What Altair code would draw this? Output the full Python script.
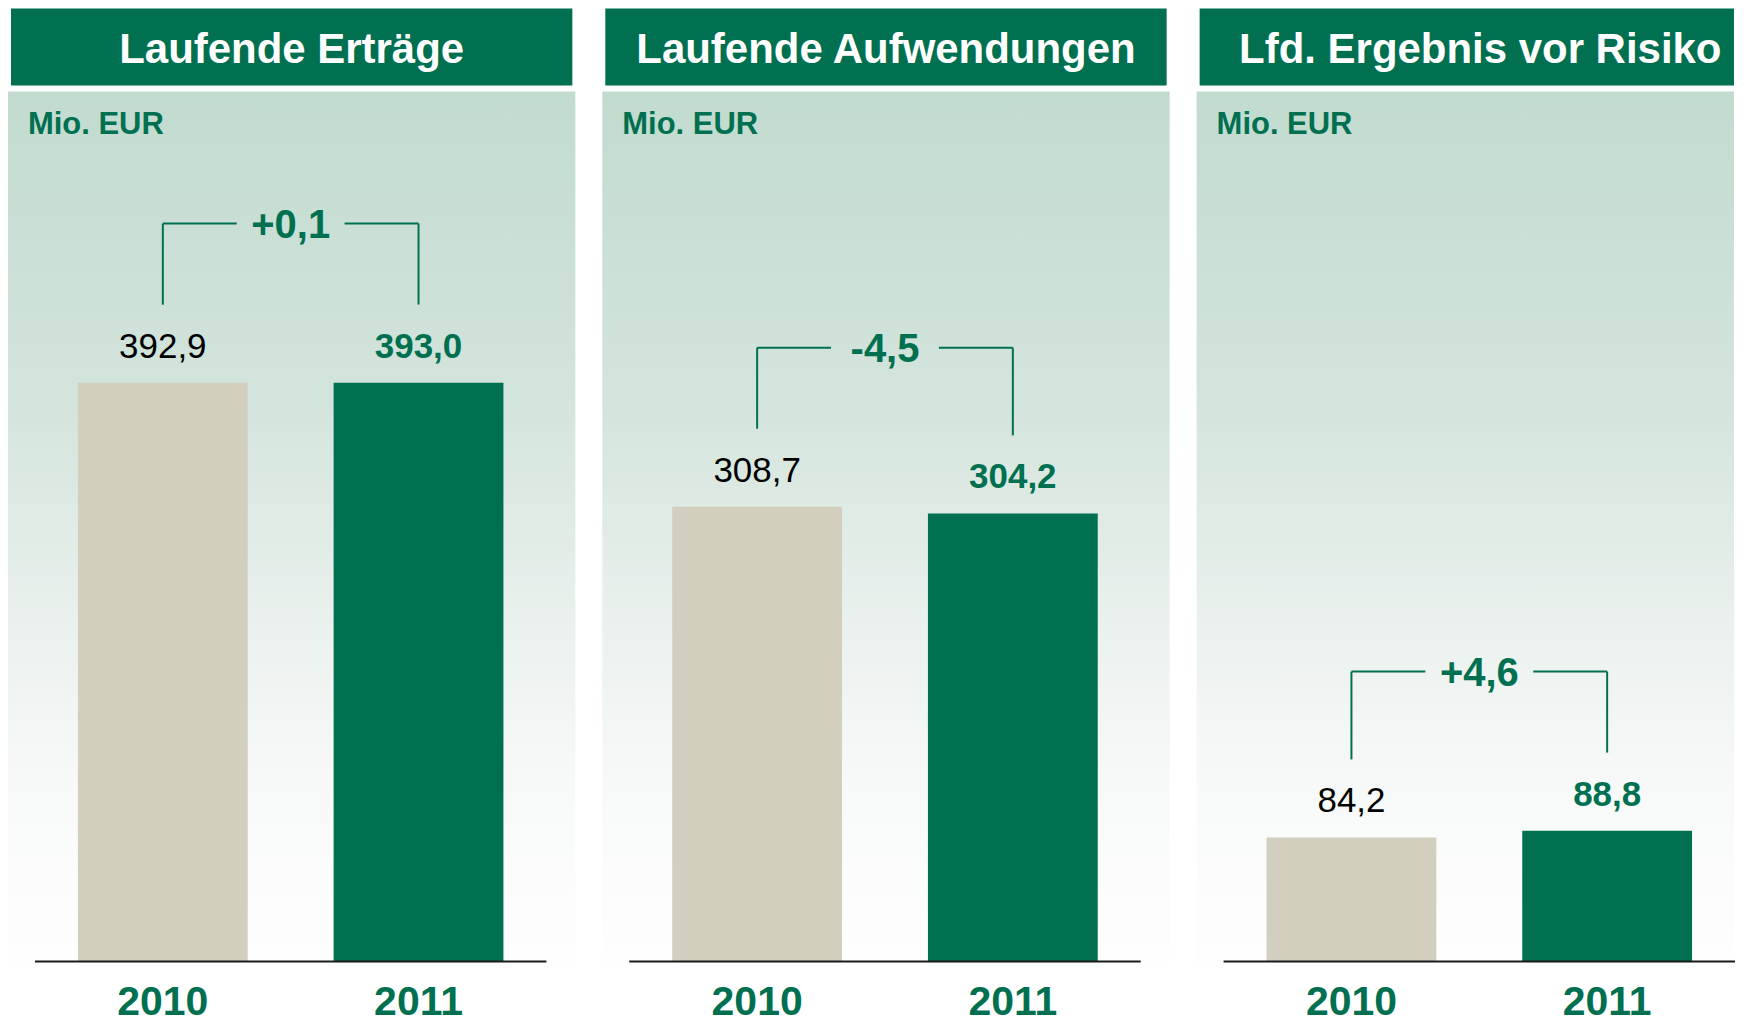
import altair as alt
import pandas as pd

# ---------------- data ----------------
titles = ["Laufende Erträge", "Laufende Aufwendungen", "Lfd. Ergebnis vor Risiko"]
years = ["2010", "2011"]
values_2010 = [392.9, 308.7, 84.2]
values_2011 = [393.0, 304.2, 88.8]
deltas = ["+0,1", "-4,5", "+4,6"]
unit_label = "Mio. EUR"

# ---------------- styles ----------------
GREEN = "#007050"
BEIGE = "#D2CFBF"
FONT = "Liberation Sans"

H = 1010
PX_PER_UNIT = 1.4746
ZERO_PX = 954
Y_DOMAIN = [-(H - ZERO_PX) / PX_PER_UNIT, ZERO_PX / PX_PER_UNIT]
STEP = 256.0
LEFT = 155.0
BAR_W = 170.0 / STEP
WIDTHS = [568, 568, 538]

gradient = alt.Gradient(
    gradient="linear",
    x1=0, x2=0, y1=0, y2=1,
    stops=[
        alt.GradientStop(color="#C2DBCF", offset=0),
        alt.GradientStop(color="#D3E4DC", offset=0.35),
        alt.GradientStop(color="#ECF2EF", offset=0.63),
        alt.GradientStop(color="#F8FAF9", offset=0.81),
        alt.GradientStop(color="#FEFEFE", offset=1),
    ],
)


def fmt(v):
    return f"{v:.1f}".replace(".", ",")


def panel(i):
    W = WIDTHS[i]
    xs = alt.Scale(domain=[-LEFT / STEP, (W - LEFT) / STEP], nice=False, zero=False)
    ys = alt.Scale(domain=Y_DOMAIN, nice=False, zero=False)
    vals = [values_2010[i], values_2011[i]]
    pos = [0.0, 1.0]
    top = max(vals) + 108

    bars_df = pd.DataFrame({
        "year": years,
        "pos": pos,
        "x0": [p - BAR_W / 2 for p in pos],
        "x1": [p + BAR_W / 2 for p in pos],
        "value": vals,
        "zero": [0, 0],
        "label": [fmt(v) for v in vals],
    })
    one = pd.DataFrame({"t": [titles[i]], "u": [unit_label]})

    bg = alt.Chart(one).mark_rect(fill=gradient).encode(
        x=alt.value(0), x2=alt.value(W), y=alt.value(83), y2=alt.value(960))
    head = alt.Chart(one).mark_rect(fill=GREEN).encode(
        x=alt.value(3), x2=alt.value(W - 3 if W > 560 else W), y=alt.value(0), y2=alt.value(77))
    head_txt = alt.Chart(one).mark_text(
        font=FONT, fontSize=42, fontWeight="bold", color="white", align="center",
        baseline="alphabetic").encode(x=alt.value(284), y=alt.value(54), text="t:N")
    unit_txt = alt.Chart(one).mark_text(
        font=FONT, fontSize=31, fontWeight="bold", color=GREEN, align="left",
        baseline="alphabetic").encode(x=alt.value(20), y=alt.value(126), text="u:N")

    bars = alt.Chart(bars_df).mark_bar().encode(
        x=alt.X("x0:Q", scale=xs, axis=None), x2="x1:Q",
        y=alt.Y("value:Q", scale=ys, axis=None), y2="zero:Q",
        color=alt.Color("year:N", scale=alt.Scale(domain=years, range=[BEIGE, GREEN]), legend=None),
    )
    base_df = pd.DataFrame({"a": [-0.5], "b": [1.5], "y": [0]})
    baseline = alt.Chart(base_df).mark_rule(color="#1A1A1A", strokeWidth=2).encode(
        x=alt.X("a:Q", scale=xs, axis=None), x2="b:Q",
        y=alt.Y("y:Q", scale=ys, axis=None))

    lbl_2010 = alt.Chart(bars_df[bars_df.year == "2010"]).mark_text(
        font=FONT, fontSize=35, color="black", align="center", baseline="alphabetic", dy=-25
    ).encode(x=alt.X("pos:Q", scale=xs, axis=None), y=alt.Y("value:Q", scale=ys, axis=None), text="label:N")
    lbl_2011 = alt.Chart(bars_df[bars_df.year == "2011"]).mark_text(
        font=FONT, fontSize=35, fontWeight="bold", color=GREEN, align="center",
        baseline="alphabetic", dy=-25
    ).encode(x=alt.X("pos:Q", scale=xs, axis=None), y=alt.Y("value:Q", scale=ys, axis=None), text="label:N")

    vert_df = pd.DataFrame({"x": pos, "y": [v + 53 for v in vals], "y2": [top, top]})
    verts = alt.Chart(vert_df).mark_rule(color=GREEN, strokeWidth=2).encode(
        x=alt.X("x:Q", scale=xs, axis=None), y=alt.Y("y:Q", scale=ys, axis=None), y2="y2:Q")
    hor_df = pd.DataFrame({"x": [0.0, 0.711], "x2": [0.289, 1.0], "y": [top, top]})
    hors = alt.Chart(hor_df).mark_rule(color=GREEN, strokeWidth=2).encode(
        x=alt.X("x:Q", scale=xs, axis=None), x2="x2:Q", y=alt.Y("y:Q", scale=ys, axis=None))
    d_df = pd.DataFrame({"x": [0.5], "y": [top], "d": [deltas[i]]})
    d_txt = alt.Chart(d_df).mark_text(
        font=FONT, fontSize=40, fontWeight="bold", color=GREEN, align="center",
        baseline="alphabetic", dy=14
    ).encode(x=alt.X("x:Q", scale=xs, axis=None), y=alt.Y("y:Q", scale=ys, axis=None), text="d:N")

    yr_txt = alt.Chart(bars_df).mark_text(
        font=FONT, fontSize=41, fontWeight="bold", color=GREEN, align="center", baseline="alphabetic"
    ).encode(x=alt.X("pos:Q", scale=xs, axis=None), y=alt.value(1008), text="year:N")

    return alt.layer(bg, head, head_txt, unit_txt, bars, baseline, lbl_2010, lbl_2011,
                     verts, hors, d_txt, yr_txt).properties(width=W, height=H)


chart = alt.hconcat(*[panel(i) for i in range(3)], spacing=27).properties(
    padding=0, background="white"
).configure_view(strokeWidth=0)

chart.save("out.html", embed_options={"renderer": "svg", "actions": False})
